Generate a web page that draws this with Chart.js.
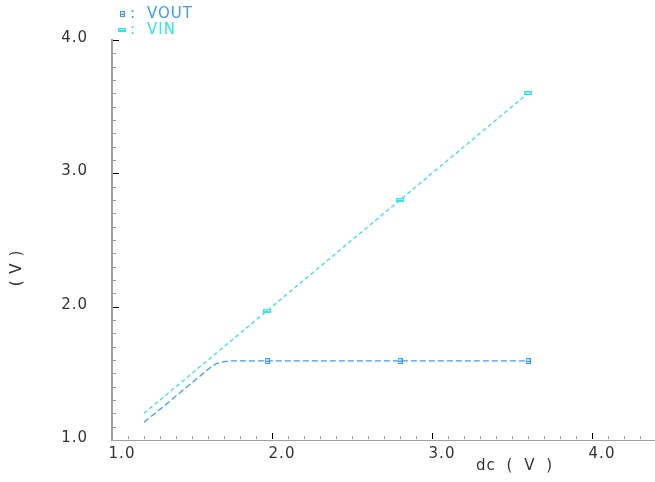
<!DOCTYPE html>
<html><head><meta charset="utf-8">
<script src="https://cdn.jsdelivr.net/npm/chart.js@4/dist/chart.umd.min.js"></script>
<style>html,body{margin:0;padding:0;background:#fff;}canvas{display:block;}</style>
</head><body>
<canvas id="c" width="655" height="482"></canvas>
<script>
// ---- data ----
const sweep = [1.2, 1.3, 1.4, 1.5, 1.6, 1.65, 1.7, 1.75, 1.8, 1.97, 2.2, 2.5, 2.8, 3.0, 3.3, 3.6];
const vin   = [1.2, 1.3, 1.4, 1.5, 1.6, 1.65, 1.7, 1.75, 1.8, 1.97, 2.2, 2.5, 2.8, 3.0, 3.3, 3.6];
const vout  = [1.133, 1.23, 1.33, 1.43, 1.53, 1.572, 1.588, 1.593, 1.593, 1.593, 1.593, 1.593, 1.593, 1.593, 1.593, 1.593];
const markerX = [1.97, 2.8, 3.6];
const seriesNames = ['VOUT', 'VIN'];
const xTickValues = [1, 2, 3, 4];
const yTickValues = [1, 2, 3, 4];
const xTitle = 'dc ( V )';
const yTitle = '( V )';

const BLUE = '#3d9bff';
const CYAN = '#30e6e6';
const FONT = '15px "DejaVu Sans"';

function mk(w, h, draw) { const c = document.createElement('canvas'); c.width = w; c.height = h; draw(c.getContext('2d')); return c; }
const voutMark = mk(5, 6, g => { g.fillStyle = BLUE; g.fillRect(0,0,5,6); g.fillStyle = '#cfe6ff'; g.fillRect(1,1,3,2); g.fillStyle='#e8f3ff'; g.fillRect(1,4,3,1); });
const vinMark = mk(8, 4, g => { g.fillStyle = CYAN; g.fillRect(0,0,8,4); g.fillStyle = '#bff7f7'; g.fillRect(1,1,6,1); });

const toXY = ys => sweep.map((x, i) => ({ x, y: ys[i] }));
const isMarker = ctx => markerX.includes(sweep[ctx.dataIndex]);

const decor = {
  id: 'decor',
  beforeLayout(chart) { chart.ctx.letterSpacing = '1px'; },
  beforeDraw(chart) { chart.ctx.letterSpacing = '1px'; },
  afterDraw(chart) {
    const { ctx, scales: { x, y }, chartArea: a } = chart;
    ctx.save();
    ctx.lineWidth = 1;
    // x ticks (inward)
    for (let i = 11; i <= 43; i++) {
      const px = Math.round(x.getPixelForValue(i / 10)) + 0.5;
      const major = i % 10 === 0;
      ctx.strokeStyle = major ? '#000' : '#999';
      ctx.beginPath(); ctx.moveTo(px, a.bottom - 1); ctx.lineTo(px, a.bottom - 1 - (major ? 6 : 3)); ctx.stroke();
    }
    // y ticks (inward)
    for (let i = 11; i <= 40; i++) {
      const py = Math.round(y.getPixelForValue(i / 10)) + 0.5;
      const major = i % 10 === 0;
      ctx.strokeStyle = major ? '#000' : '#999';
      ctx.beginPath(); ctx.moveTo(a.left + 1, py); ctx.lineTo(a.left + 1 + (major ? 6 : 3), py); ctx.stroke();
    }
    // legend
    ctx.font = FONT; ctx.letterSpacing = '1px';
    ctx.textBaseline = 'middle'; ctx.textAlign = 'left';
    const marks = [voutMark, vinMark], cols = [BLUE, CYAN], ly = [14, 30];
    seriesNames.forEach((n, i) => {
      const m = marks[i];
      ctx.drawImage(m, Math.round(122 - m.width / 2), Math.round(ly[i] - m.height / 2));
      ctx.fillStyle = cols[i];
      ctx.fillText(':', 130, ly[i]);
      ctx.fillText(n, 147, ly[i]);
    });
    // axis titles
    ctx.fillStyle = '#333';
    ctx.save();
    ctx.wordSpacing = '5px';
    ctx.fillText(xTitle, 476, 466);
    ctx.restore();
    ctx.save();
    ctx.translate(17, 268); ctx.rotate(-Math.PI / 2);
    ctx.textAlign = 'center';
    ctx.fillText(yTitle, 0, 0);
    ctx.restore();
    ctx.restore();
  }
};

new Chart(document.getElementById('c'), {
  type: 'line',
  data: {
    datasets: [
      { label: seriesNames[0], data: toXY(vout), borderColor: BLUE, borderWidth: 1.3, borderDash: [6, 3],
        pointStyle: voutMark, pointRadius: c => isMarker(c) ? 3 : 0, tension: 0 },
      { label: seriesNames[1], data: toXY(vin), borderColor: CYAN, borderWidth: 1.3, borderDash: [4, 3],
        pointStyle: vinMark, pointRadius: c => isMarker(c) ? 4 : 0, tension: 0 }
    ]
  },
  options: {
    responsive: false, animation: false, devicePixelRatio: 1,
    layout: { autoPadding: false, padding: { top: 40, right: 0, left: 0, bottom: 0 } },
    plugins: { legend: { display: false }, tooltip: { enabled: false } },
    scales: {
      x: {
        type: 'linear', min: 1, max: 1 + 543 / 160,
        grid: { display: false, drawTicks: false },
        border: { display: true, color: '#a0a0a0', width: 1 },
        afterFit: s => { s.height = 42; s.paddingLeft = 0; s.paddingRight = 0; },
        afterBuildTicks: s => { s.ticks = xTickValues.map(v => ({ value: v })); },
        ticks: { font: { family: 'DejaVu Sans', size: 15 }, color: '#333', padding: 5, labelOffset: 10,
                 callback: v => v.toFixed(1), maxRotation: 0 }
      },
      y: {
        type: 'linear', min: 1, max: 4,
        grid: { display: false, drawTicks: false },
        border: { display: true, color: '#a0a0a0', width: 2 },
        afterFit: s => { s.width = 112; s.paddingTop = 0; s.paddingBottom = 0; },
        afterBuildTicks: s => { s.ticks = yTickValues.map(v => ({ value: v })); },
        ticks: { font: { family: 'DejaVu Sans', size: 15 }, color: '#333', padding: 24, labelOffset: -2,
                 callback: v => v.toFixed(1) }
      }
    }
  },
  plugins: [decor]
});
</script>
</body></html>
